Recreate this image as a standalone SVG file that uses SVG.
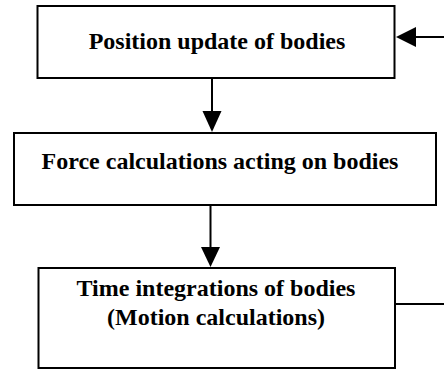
<svg xmlns="http://www.w3.org/2000/svg" width="444" height="380" viewBox="0 0 444 380">
<style>
.box{fill:#fff;stroke:#000;stroke-width:2}
.t{font-family:"Liberation Serif","Times New Roman",serif;font-weight:bold;font-size:24px;fill:#000;text-anchor:middle}
.ln{fill:none;stroke:#000;stroke-width:2}
.hd{fill:#000}
</style>
<rect width="444" height="380" fill="#fff"/>
<g id="n1"><rect class="box" x="37.5" y="6" width="357" height="72"/><text class="t" x="217" y="49">Position update of bodies</text></g>
<g id="n2"><rect class="box" x="14" y="133" width="422" height="72"/><text class="t" x="220" y="169">Force calculations acting on bodies</text></g>
<g id="n3"><rect class="box" x="38.5" y="268" width="356.5" height="100"/><text class="t" x="216" y="296">Time integrations of bodies</text><text class="t" x="216" y="325">(Motion calculations)</text></g>
<g id="connectors">
<line class="ln" x1="212" y1="78" x2="212" y2="112"/><polygon class="hd" points="202.5,111 221.5,111 212,132"/>
<line class="ln" x1="210.5" y1="205" x2="210.5" y2="248"/><polygon class="hd" points="201,247 220,247 210.5,267"/>
<path class="ln" d="M395,304 H447 V37 H415"/><polygon class="hd" points="396,37 416,27 416,47"/>
</g>
</svg>
